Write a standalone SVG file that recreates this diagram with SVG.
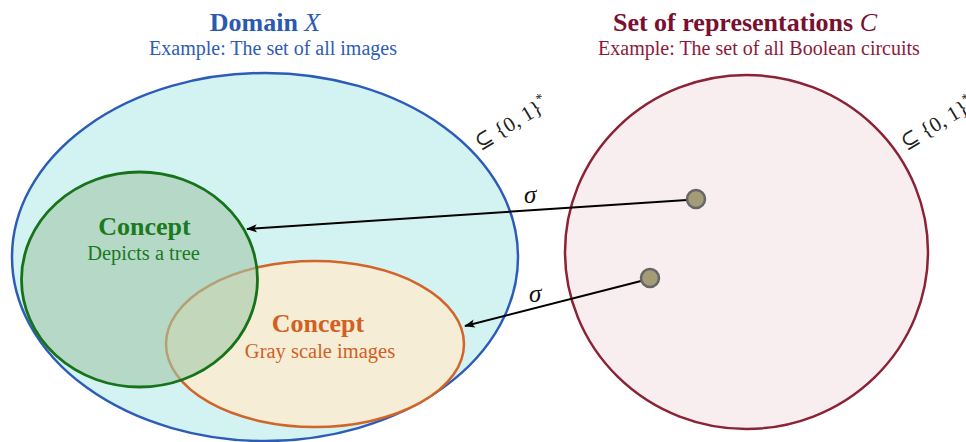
<svg xmlns="http://www.w3.org/2000/svg" width="966" height="442" viewBox="0 0 966 442">
<defs>
<marker id="arr" viewBox="0 0 12 10" refX="11" refY="5" markerWidth="11" markerHeight="9" markerUnits="userSpaceOnUse" orient="auto">
<path d="M0,0.5 L12,5 L0,9.5 L3,5 z" fill="#000"/>
</marker>
</defs>
<style>
text{font-family:"Liberation Serif","DejaVu Serif",serif}
.title{font-size:26px;font-weight:bold;text-anchor:middle}
.sub{font-size:20px;text-anchor:middle}
.cbold{font-size:26px;font-weight:bold;text-anchor:middle}
.csub{font-size:20.5px;text-anchor:middle}
.math{font-size:21px;fill:#222}
.sig{font-size:25px;font-style:italic;fill:#111}
.conn{stroke:#000;stroke-width:2;fill:none;marker-end:url(#arr)}
.dot{fill:#a49b77;stroke:#666;stroke-width:2.5}
</style>
<g id="domain">
<ellipse cx="265" cy="257" rx="253" ry="184" fill="#d3f3f3" stroke="#2d5cb8" stroke-width="2.5"/>
<text class="title" x="265" y="31" fill="#2a59b0">Domain <tspan font-style="italic" font-weight="normal">X</tspan></text>
<text class="sub" x="273" y="55" fill="#2d5cb8">Example: The set of all images</text>
<text class="math" transform="translate(480,150) rotate(-31)">⊆ {0, 1}<tspan dy="-9" font-size="14">*</tspan></text>
</g>
<g id="concept-gray">
<ellipse cx="315" cy="344" rx="149" ry="83" fill="#f5edd6" stroke="#d2642a" stroke-width="2.5"/>
</g>
<g id="concept-tree">
<ellipse cx="139.5" cy="279.5" rx="118" ry="107.5" fill="rgb(161,200,169)" fill-opacity="0.6" stroke="#17731a" stroke-width="2.8"/>
<text class="cbold" x="144.5" y="235" fill="#1a7a1f">Concept</text>
<text class="csub" x="143.5" y="260" fill="#1a7a1f">Depicts a tree</text>
</g>
<g id="concept-gray-text">
<text class="cbold" x="318" y="332" fill="#d2601f">Concept</text>
<text class="csub" x="320" y="358" fill="#d2601f">Gray scale images</text>
</g>
<g id="representations">
<ellipse cx="746.5" cy="252" rx="181.5" ry="177" fill="#f8eef0" stroke="#8b2235" stroke-width="2.5"/>
<text class="title" x="745" y="31" fill="#7a1030">Set of representations <tspan font-style="italic" font-weight="normal">C</tspan></text>
<text class="sub" x="759" y="55" fill="#8b1a3a">Example: The set of all Boolean circuits</text>
<text class="math" transform="translate(906,150) rotate(-31)">⊆ {0, 1}<tspan dy="-9" font-size="14">*</tspan></text>
</g>
<g id="connectors">
<line class="conn" x1="687" y1="200" x2="247" y2="229"/>
<line class="conn" x1="641" y1="281" x2="465" y2="326"/>
<text class="sig" x="524" y="203">σ</text>
<text class="sig" x="529" y="302">σ</text>
</g>
<g id="dots">
<circle class="dot" cx="696" cy="199" r="9"/>
<circle class="dot" cx="650" cy="278" r="9"/>
</g>
</svg>
